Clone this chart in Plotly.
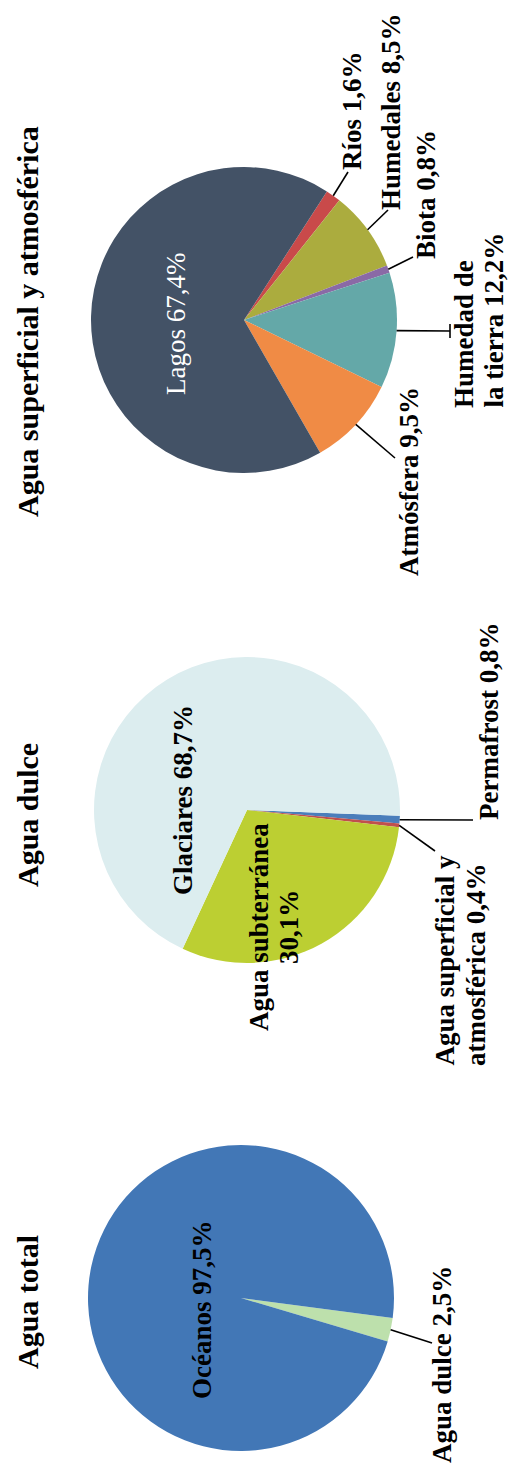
import math
import plotly.graph_objects as go

W, H = 509, 1480

# ---- data -------------------------------------------------------------
titles = ["Agua total", "Agua dulce", "Agua superficial y atmosférica"]

total_labels = ["Agua dulce", "Océanos"]
total_values = [2.5, 97.5]
total_colors = ["#bde0ac", "#4277b6"]

dulce_labels = ["Permafrost", "Agua superficial y atmosférica", "Agua subterránea", "Glaciares"]
dulce_values = [0.8, 0.4, 30.1, 68.7]
dulce_colors = ["#4a7ebb", "#c0504d", "#bccf32", "#dcedef"]

sup_labels = ["Ríos", "Humedales", "Biota", "Humedad de la tierra", "Atmósfera", "Lagos"]
sup_values = [1.6, 8.5, 0.8, 12.2, 9.5, 67.4]
sup_colors = ["#c94a4a", "#abac3e", "#8a6aa6", "#64a8a8", "#f08b45", "#435266"]

# ---- layout helpers (pixel space, y downwards) ------------------------
R = 153
FONT = "Liberation Serif"
LBL = 27
TTL = 30


def px(x):
    return x / W


def py(y):
    return 1 - y / H


def fmt(v):
    return f"{v:.1f}".replace(".", ",")


def edge_point(cx, cy, rot, values, i):
    tot = sum(values)
    before = sum(values[:i])
    ang = math.radians(rot + 360 * (before + values[i] / 2) / tot)
    return cx + R * math.sin(ang), cy - R * math.cos(ang)


# each pie: centre, start rotation, title position, and label placement
pies = [
    dict(labels=total_labels, values=total_values, colors=total_colors,
         c=(241, 1298), rot=97.5, title=(27, 1302),
         place=[
             # idx, words on first line, x, y, anchor, spacing, colour, weight, leader end
             (0, None, 442, 1365, "middle", 0, "black", "bold", [(432, 1343)]),
             (1, None, 202, 1310, "middle", 0, "black", "bold", None),
         ]),
    dict(labels=dulce_labels, values=dulce_values, colors=dulce_colors,
         c=(247, 810), rot=92.2, title=(27, 815),
         place=[
             (0, None, 489, 722, "middle", 0, "black", "bold", [(473, 820)]),
             (1, 3, 444, 1068, "bottom", 32, "black", "bold", [(435, 851)]),
             (2, 2, 259, 927, "middle", 30, "black", "bold", None),
             (3, None, 183, 800, "middle", 0, "black", "bold", None),
         ]),
    dict(labels=sup_labels, values=sup_values, colors=sup_colors,
         c=(244, 320), rot=32.8, title=(27, 322),
         place=[
             (0, None, 352, 111, "middle", 0, "black", "bold", [(348, 172)]),
             (1, None, 391, 112, "middle", 0, "black", "bold", [(388, 210)]),
             (2, None, 426, 195, "middle", 0, "black", "bold", [(413, 257)]),
             (3, 2, 464, 410, "bottom", 30, "black", "bold", [(450, 331)]),
             (4, None, 409, 482, "middle", 0, "black", "bold", [(395, 458)]),
             (5, None, 176, 324, "middle", 0, "white", "normal", None),
         ]),
]

fig = go.Figure()
annotations = []
shapes = []

for p in pies:
    cx, cy = p["c"]
    fig.add_trace(go.Pie(
        labels=p["labels"], values=p["values"],
        marker=dict(colors=p["colors"], line=dict(width=0)),
        sort=False, direction="clockwise", rotation=p["rot"],
        textinfo="none", hoverinfo="label+percent", showlegend=False,
        domain=dict(x=[px(cx - R), px(cx + R)], y=[py(cy + R), py(cy - R)]),
    ))

    tx, ty = p["title"]
    annotations.append(dict(
        text=titles[pies.index(p)], x=px(tx), y=py(ty), xref="paper", yref="paper",
        textangle=-90, showarrow=False, xanchor="center", yanchor="middle",
        font=dict(family=FONT, size=TTL, color="black", weight="bold"),
    ))

    for idx, split, lx, ly, anchor, gap, col, wt, leader in p["place"]:
        full = f"{p['labels'][idx]} {fmt(p['values'][idx])}%"
        words = full.split(" ")
        lines = [full] if split is None else [" ".join(words[:split]), " ".join(words[split:])]
        for k, line in enumerate(lines):
            annotations.append(dict(
                text=line, x=px(lx + k * gap), y=py(ly), xref="paper", yref="paper",
                textangle=-90, showarrow=False, xanchor="center", yanchor=anchor,
                font=dict(family=FONT, size=LBL, color=col, weight=wt),
            ))
        if leader:
            pts = [edge_point(cx, cy, p["rot"], p["values"], idx)] + leader
            for (x0, y0), (x1, y1) in zip(pts[:-1], pts[1:]):
                shapes.append(dict(type="line", xref="paper", yref="paper",
                                   x0=px(x0), y0=py(y0), x1=px(x1), y1=py(y1),
                                   line=dict(color="black", width=1.6)))

# short tick closing the soil-moisture leader next to its label
shapes.append(dict(type="line", xref="paper", yref="paper",
                   x0=px(450), y0=py(324), x1=px(450), y1=py(338),
                   line=dict(color="black", width=1.6)))

fig.update_layout(
    width=W, height=H,
    margin=dict(l=0, r=0, t=0, b=0),
    paper_bgcolor="white", plot_bgcolor="white",
    annotations=annotations, shapes=shapes,
)

fig.write_html("out.html")
